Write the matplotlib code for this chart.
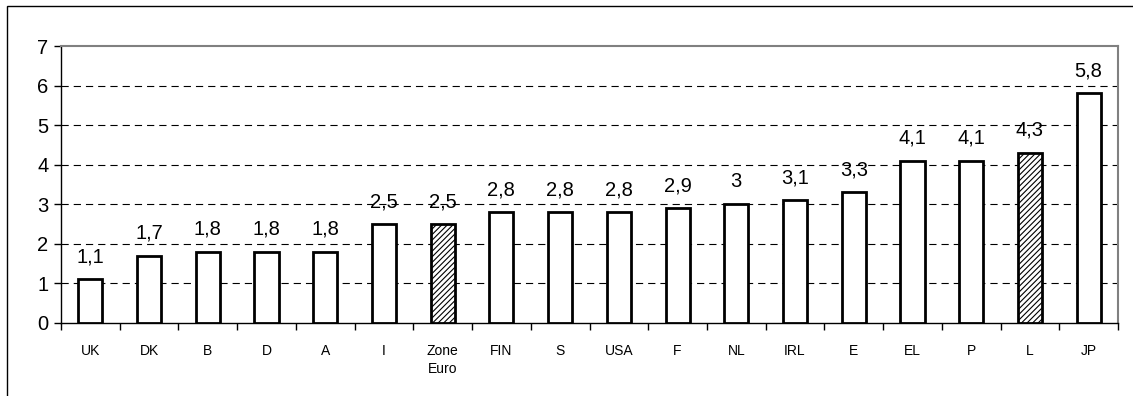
import matplotlib
matplotlib.use("Agg")
import matplotlib.pyplot as plt
from matplotlib.patches import Rectangle

plt.rcParams['font.family'] = ['Liberation Sans', 'DejaVu Sans']
plt.rcParams['hatch.linewidth'] = 0.8

countries = ["UK", "DK", "B", "D", "A", "I", "Zone\nEuro", "FIN", "S", "USA",
             "F", "NL", "IRL", "E", "EL", "P", "L", "JP"]
values = [1.1, 1.7, 1.8, 1.8, 1.8, 2.5, 2.5, 2.8, 2.8, 2.8,
          2.9, 3.0, 3.1, 3.3, 4.1, 4.1, 4.3, 5.8]
hatched = ["Zone\nEuro", "L"]


def fmt(v):
    s = "{:g}".format(v)
    return s.replace(".", ",")


fig = plt.figure(figsize=(11.33, 3.96), dpi=100)
# outer frame of the chart object
fig.patches.append(Rectangle((7 / 1133, -0.1), 1.2, (396 - 6) / 396 + 0.1,
                             transform=fig.transFigure, fill=False,
                             edgecolor="black", linewidth=1.0))

ax = fig.add_axes([61 / 1133, 1 - 323 / 396, (1118 - 61) / 1133, (323 - 46) / 396])

x = range(len(countries))
for i, (c, v) in enumerate(zip(countries, values)):
    ax.bar(i, v, width=0.41, facecolor="white", edgecolor="black", linewidth=2.0,
           hatch="//////" if c in hatched else None, zorder=3)
    ax.text(i, v + 0.33, fmt(v), ha="center", va="bottom", fontsize=14.5, zorder=4)

ax.set_xlim(-0.5, len(countries) - 0.5)
ax.set_ylim(0, 7)
ax.set_yticks(range(8))
ax.tick_params(axis="y", labelsize=14.5, length=5, width=1, direction="out", pad=4)

# category labels centred, ticks between categories
ax.set_xticks(list(x))
ax.set_xticklabels(countries, fontsize=10, linespacing=1.35)
ax.tick_params(axis="x", which="major", length=0, pad=15)
ax.set_xticks([i + 0.5 for i in range(-1, len(countries))], minor=True)
ax.tick_params(axis="x", which="minor", length=5, width=1, direction="out")

for y in range(1, 7):
    ax.axhline(y, color="black", linestyle=(0, (6.5, 4.5)), linewidth=0.8, zorder=1)

ax.spines["left"].set_color("black")
ax.spines["bottom"].set_color("black")
ax.spines["top"].set_color("#808080")
ax.spines["right"].set_color("#808080")
for s in ax.spines.values():
    s.set_linewidth(1.5)
ax.spines["left"].set_linewidth(1.0)
ax.spines["bottom"].set_linewidth(1.0)

fig.savefig("out.png", dpi=100)
